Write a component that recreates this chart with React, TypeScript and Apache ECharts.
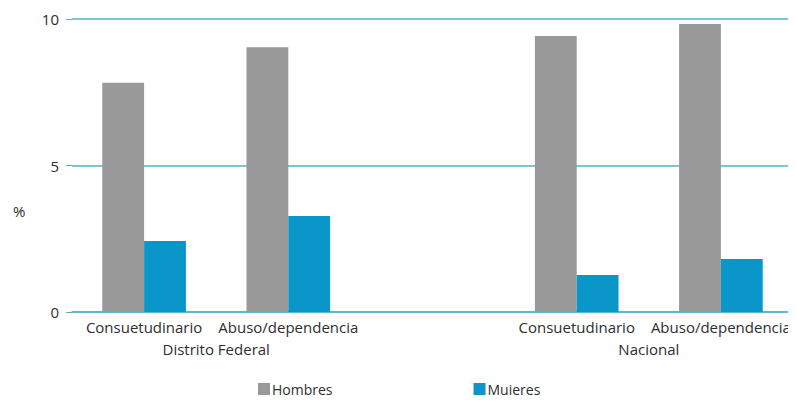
import React, { useEffect, useRef } from "react";
import * as echarts from "echarts";

const categories = ["Consuetudinario", "Abuso/dependencia", "", "Consuetudinario", "Abuso/dependencia"];
const groups = ["Distrito Federal", "Nacional"];
const groupCenters = [1, 4];
const hombres = [7.82, 9.04, null, 9.42, 9.83];
const mujeres = [2.42, 3.28, null, 1.26, 1.81];
const yTicks = [0, 5, 10];
const yUnit = "%";

const FONT = "Open Sans";
const FS = 15;
const TXT = "#2e2e2e";

export default function App() {
  const ref = useRef<HTMLDivElement>(null);
  useEffect(() => {
    if (!ref.current) return;
    const chart = echarts.init(ref.current, null, { renderer: "svg" });
    chart.setOption({
      animation: false,
      textStyle: { fontFamily: FONT },
      grid: { left: 72, right: -3, top: 19, bottom: 91, containLabel: false },
      graphic: [
        {
          type: "text",
          left: 13,
          top: 203,
          style: { text: yUnit, fill: TXT, font: `${FS}px "${FONT}"` },
        },
      ],
      legend: {
        left: 258,
        top: 381,
        padding: 0,
        itemWidth: 12,
        itemHeight: 12,
        itemGap: 141,
        icon: "rect",
        textStyle: { fontSize: 14, lineHeight: 16, color: TXT, fontFamily: FONT, padding: [0, 0, 0, -3] },
        data: ["Hombres", "Mujeres"],
      },
      xAxis: [
        {
          type: "category",
          data: categories,
          axisLine: { show: true, lineStyle: { color: "#4fb3cf", width: 1.5 } },
          axisTick: { show: false },
          axisLabel: { color: TXT, fontSize: FS, margin: 7, interval: 0, fontFamily: FONT },
        },
        {
          type: "value",
          position: "bottom",
          min: 0,
          max: categories.length,
          interval: 1,
          axisLine: { show: false },
          axisTick: { show: false },
          splitLine: { show: false },
          axisLabel: {
            color: TXT,
            fontSize: FS,
            margin: 29,
            fontFamily: FONT,
            showMinLabel: true,
            showMaxLabel: true,
            formatter: (v: number) => {
              const i = groupCenters.indexOf(v);
              return i >= 0 ? groups[i] : "";
            },
          },
        },
      ],
      yAxis: {
        type: "value",
        min: yTicks[0],
        max: yTicks[yTicks.length - 1],
        interval: 5,
        axisLine: { show: false },
        axisTick: { show: true, length: 6, lineStyle: { color: "#6fa9b0" } },
        axisLabel: { color: TXT, fontSize: FS, margin: 13, fontFamily: FONT },
        splitLine: { show: true, lineStyle: { color: "#4fb3c4", width: 1.5 } },
      },
      series: [
        {
          name: "Hombres",
          type: "bar",
          data: hombres,
          barGap: "0%",
          barCategoryGap: "42%",
          itemStyle: { color: "#999999" },
        },
        {
          name: "Mujeres",
          type: "bar",
          data: mujeres,
          itemStyle: { color: "#0b96c9" },
        },
      ],
    });
    return () => chart.dispose();
  }, []);
  return <div ref={ref} style={{ width: 796, height: 403, margin: -8 }} />;
}
